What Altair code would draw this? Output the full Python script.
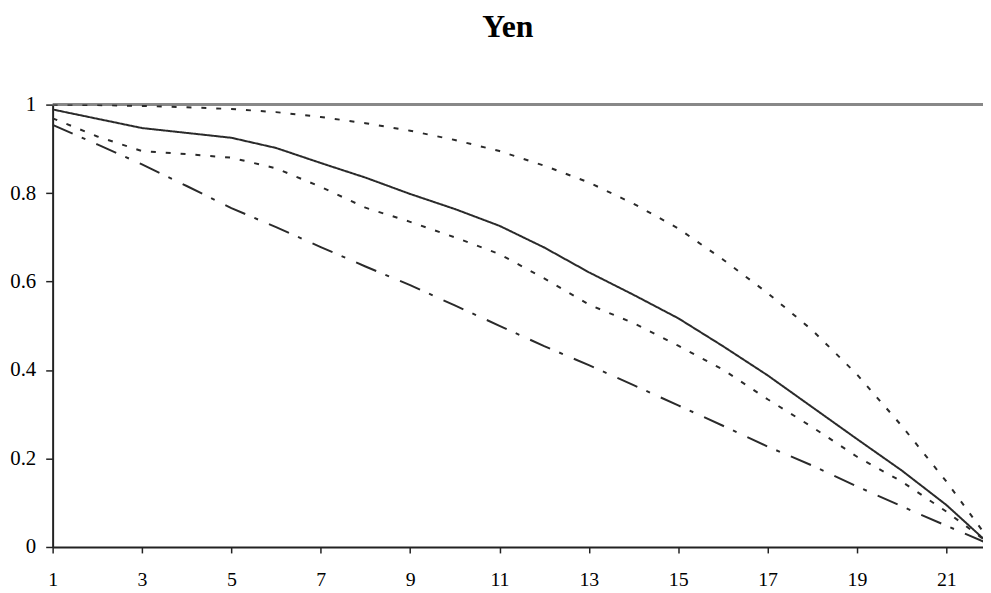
import altair as alt
import pandas as pd

# Horizon (x) values
x_vals = list(range(1, 23))

# Series values
solid = [0.989, 0.968, 0.947, 0.936, 0.925, 0.902, 0.868, 0.835, 0.798, 0.764,
         0.726, 0.677, 0.621, 0.570, 0.517, 0.454, 0.388, 0.316, 0.244, 0.173,
         0.095, 0.003]
upper_dotted = [1.000, 0.999, 0.997, 0.994, 0.990, 0.983, 0.972, 0.958, 0.941, 0.920,
                0.895, 0.862, 0.824, 0.776, 0.720, 0.650, 0.574, 0.490, 0.390, 0.274,
                0.148, 0.010]
middle_dotted = [0.969, 0.928, 0.895, 0.888, 0.880, 0.856, 0.814, 0.767, 0.735, 0.700,
                 0.662, 0.607, 0.548, 0.506, 0.455, 0.401, 0.334, 0.271, 0.204, 0.148,
                 0.080, 0.005]
dash_dot = [0.954, 0.910, 0.865, 0.816, 0.766, 0.723, 0.678, 0.634, 0.592, 0.546,
            0.500, 0.454, 0.411, 0.366, 0.320, 0.274, 0.227, 0.184, 0.137, 0.092,
            0.048, 0.005]

series_names = ["solid", "upper dotted", "middle dotted", "dash-dot"]
series_values = [solid, upper_dotted, middle_dotted, dash_dot]
dash_patterns = [[1, 0], [5, 10], [5, 10], [22, 10, 4, 12]]

reference_level = [1.0]

x_ticks = list(range(1, 22, 2))
y_ticks = [0, 0.2, 0.4, 0.6, 0.8, 1.0]

rows = []
for name, vals in zip(series_names, series_values):
    for xv, yv in zip(x_vals, vals):
        rows.append({"x": xv, "value": yv, "series": name})
df = pd.DataFrame(rows)

font = "Times New Roman, Liberation Serif, serif"
xscale = alt.Scale(domain=[1, 21.82], nice=False, zero=False)
yscale = alt.Scale(domain=[0, 1], nice=False, zero=True)

x_axis = alt.Axis(values=x_ticks, title=None, grid=False, tickSize=6, labelPadding=17,
                  domainColor="#222222", domainWidth=2, tickColor="#222222", tickWidth=1.5,
                  labelFont=font, labelFontSize=20, labelColor="black", labelFlush=False)
y_axis = alt.Axis(values=y_ticks, title=None, grid=False, tickSize=7, labelPadding=10,
                  format="~g", domainColor="#222222", domainWidth=2, tickColor="#222222",
                  tickWidth=1.5, labelFont=font, labelFontSize=21, labelColor="black")

rule = alt.Chart(pd.DataFrame({"level": reference_level})).mark_rule(
    color="#888888", strokeWidth=3
).encode(y=alt.Y("level:Q", scale=yscale, axis=y_axis))

lines = alt.Chart(df).mark_line(clip=True, strokeWidth=2, color="#2a2a2a").encode(
    x=alt.X("x:Q", scale=xscale, axis=x_axis),
    y=alt.Y("value:Q", scale=yscale, axis=y_axis),
    strokeDash=alt.StrokeDash("series:N",
                              scale=alt.Scale(domain=series_names, range=dash_patterns),
                              legend=None),
    detail="series:N",
)

chart = alt.layer(rule, lines).properties(
    width=938,
    height=446,
    autosize="none",
    padding={"left": 45, "top": 95, "right": 0, "bottom": 44},
    title=alt.TitleParams("Yen", font=font, fontSize=32, fontWeight="bold", color="black",
                          anchor="middle", offset=25, dx=-10, baseline="alphabetic"),
).configure_view(stroke=None)

chart.save("out.html", embed_options={"renderer": "svg", "actions": False})
